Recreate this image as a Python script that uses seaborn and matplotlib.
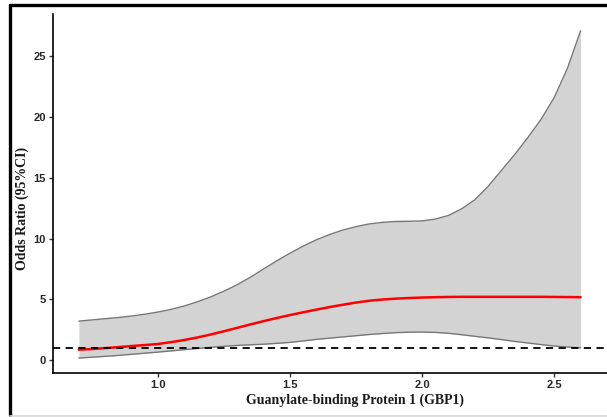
import matplotlib
matplotlib.use("Agg")
import matplotlib.pyplot as plt
from matplotlib.lines import Line2D
import seaborn as sns
import pandas as pd

# Restricted cubic spline estimate of odds ratio vs GBP1 level
gbp1 = [0.70, 0.75, 0.80, 0.85, 0.90, 0.95, 1.00, 1.05, 1.10, 1.15,
        1.20, 1.25, 1.30, 1.35, 1.40, 1.45, 1.50, 1.55, 1.60, 1.65,
        1.70, 1.75, 1.80, 1.85, 1.90, 1.95, 2.00, 2.05, 2.10, 2.15,
        2.20, 2.25, 2.30, 2.35, 2.40, 2.45, 2.50, 2.55, 2.60]
odds_ratio = [0.85, 0.90, 0.98, 1.06, 1.15, 1.23, 1.32, 1.47, 1.65, 1.86,
              2.10, 2.37, 2.65, 2.93, 3.20, 3.46, 3.70, 3.93, 4.15, 4.36,
              4.55, 4.73, 4.88, 4.98, 5.05, 5.10, 5.14, 5.17, 5.19, 5.20,
              5.20, 5.20, 5.20, 5.20, 5.20, 5.20, 5.19, 5.18, 5.17]
ci_upper = [3.20, 3.30, 3.40, 3.50, 3.62, 3.77, 3.95, 4.17, 4.45, 4.80,
            5.20, 5.67, 6.20, 6.82, 7.50, 8.17, 8.80, 9.38, 9.90, 10.33,
            10.70, 10.98, 11.20, 11.33, 11.40, 11.42, 11.45, 11.60, 11.90, 12.45,
            13.20, 14.30, 15.60, 16.90, 18.30, 19.80, 21.60, 24.00, 27.10]
ci_lower = [0.16, 0.23, 0.30, 0.38, 0.47, 0.56, 0.65, 0.75, 0.85, 0.95,
            1.05, 1.13, 1.20, 1.25, 1.30, 1.37, 1.45, 1.57, 1.70, 1.80,
            1.90, 2.00, 2.10, 2.18, 2.25, 2.29, 2.30, 2.27, 2.20, 2.08,
            1.95, 1.82, 1.68, 1.53, 1.40, 1.27, 1.15, 1.07, 1.00]
y_ticks = [0, 5, 10, 15, 20, 25]
x_ticks = [1.0, 1.5, 2.0, 2.5]
x_tick_labels = ["1.0", "1.5", "2.0", "2.5"]
reference_or = 1

df = pd.DataFrame({"x": gbp1, "or": odds_ratio, "lo": ci_lower, "hi": ci_upper})

sns.set_style("white")
plt.rcParams["font.family"] = ["Liberation Sans", "DejaVu Sans"]

fig = plt.figure(figsize=(6.07, 4.17), dpi=100)
W, H = 607, 417
ax = fig.add_axes([53 / W, 1 - 373 / H, (607 - 53) / W, (373 - 14) / H])

ax.fill_between(df["x"], df["lo"], df["hi"], color="#d3d3d3", linewidth=0, zorder=1)
sns.lineplot(data=df, x="x", y="hi", ax=ax, color="#777777", linewidth=1.0, zorder=2)
sns.lineplot(data=df, x="x", y="lo", ax=ax, color="#777777", linewidth=1.0, zorder=2)
sns.lineplot(data=df, x="x", y="or", ax=ax, color="#ff0000", linewidth=1.8, zorder=3)
ax.axhline(reference_or, color="black", linestyle=(0, (4, 3)), linewidth=1.3, zorder=4)

ax.set_xlim(0.602, 2.70)
ax.set_ylim(-1.07, 28.48)
ax.set_xticks(x_ticks)
ax.set_xticklabels(x_tick_labels)
ax.set_yticks(y_ticks)

sns.despine(ax=ax)
for side in ("left", "bottom"):
    ax.spines[side].set_color("black")
    ax.spines[side].set_linewidth(1.2)

ax.tick_params(axis="both", direction="out", length=3, width=1, color="#333333",
               labelsize=8, labelcolor="#262626", pad=2, left=True, bottom=True)
for lab in ax.get_xticklabels() + ax.get_yticklabels():
    lab.set_fontweight("bold")

serif = ["Liberation Serif", "DejaVu Serif"]
ax.set_xlabel("Guanylate-binding Protein 1 (GBP1)", family=serif, fontsize=10,
              fontweight="bold", color="#1a1a1a")
ax.set_ylabel("Odds Ratio (95%CI)", family=serif, fontsize=10,
              fontweight="bold", color="#1a1a1a")
ax.xaxis.set_label_coords((355 - 53) / (607 - 53), -(400 - 373) / (373 - 14), transform=ax.transAxes)
ax.yaxis.set_label_coords(-(53 - 22) / (607 - 53), (373 - 208) / (373 - 14), transform=ax.transAxes)
ax.xaxis.label.set_verticalalignment("center")
ax.yaxis.label.set_verticalalignment("center")

# Outer frame around the figure
fig.add_artist(Line2D([10 / W, 1.0], [1 - 5 / H, 1 - 5 / H], color="black",
                      linewidth=2.4, transform=fig.transFigure))
fig.add_artist(Line2D([10 / W, 10 / W], [1 - 5 / H, 1 - 415 / H], color="black",
                      linewidth=2.4, transform=fig.transFigure))
fig.add_artist(Line2D([10 / W, 1.0], [1 - 415.5 / H, 1 - 415.5 / H], color="#d9d9d9",
                      linewidth=1.2, transform=fig.transFigure))

fig.savefig("out.png", dpi=100)
